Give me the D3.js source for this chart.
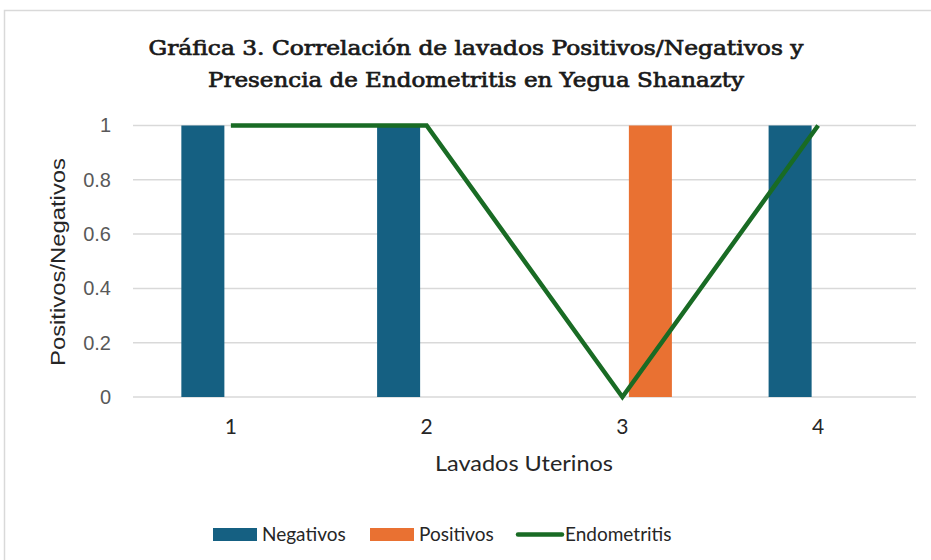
<!DOCTYPE html>
<html><head><meta charset="utf-8">
<script src="https://cdn.jsdelivr.net/npm/d3@7"></script>
<style>html,body{margin:0;padding:0;background:#fff;}svg{display:block;}</style>
</head><body>
<script>
const categories = ["1","2","3","4"];
const negativos = [1, 1, 0, 1];
const positivos = [0, 0, 1, 0];
const endometritis = [1, 1, 0, 1];
const yTicks = [0, 0.2, 0.4, 0.6, 0.8, 1];
const seriesNames = ["Negativos", "Positivos"];
const colors = {Negativos: "#156082", Positivos: "#E97132", Endometritis: "#196B24"};

const W = 931, H = 560;
const svg = d3.select("body").append("svg").attr("width", W).attr("height", H);
svg.append("rect").attr("x",4.5).attr("y",10.5).attr("width",960).attr("height",600)
  .attr("fill","#fff").attr("stroke","#d9d9d9").attr("stroke-width",1.5);

const plot = {left:133, right:916, top:125.5, bottom:397};
const x0 = d3.scaleBand().domain(categories).range([plot.left, plot.right])
  .paddingInner(0.494).paddingOuter(0.247);
const x1 = d3.scaleBand().domain(seriesNames).range([0, x0.bandwidth()]).paddingInner(0.232);
const y = d3.scaleLinear().domain([0,1]).range([plot.bottom, plot.top]);

// gridlines
svg.append("g").selectAll("line").data(yTicks).join("line")
  .attr("x1", plot.left).attr("x2", plot.right)
  .attr("y1", d=>y(d)).attr("y2", d=>y(d))
  .attr("stroke","#d9d9d9").attr("stroke-width",1.5);

// y labels
const yAxis = d3.axisLeft(y).tickValues(yTicks).tickSize(0).tickPadding(0).tickFormat(d=>String(d));
const gy = svg.append("g").attr("transform",`translate(${plot.left-22},0)`).call(yAxis);
gy.select(".domain").remove();
gy.selectAll("text").attr("font-family","'Liberation Sans', Arial, sans-serif").attr("font-size",20).attr("fill","#595959");

// x labels
const xAxis = d3.axisBottom(x0).tickSize(0).tickPadding(0);
const gx = svg.append("g").attr("transform",`translate(0,${plot.bottom+22})`).call(xAxis);
gx.select(".domain").remove();
gx.selectAll("text").attr("font-family","Lato, 'Open Sans', sans-serif").attr("font-size",21).attr("fill","#262626");

// bars
const data = categories.map((c,i)=>({cat:c, Negativos:negativos[i], Positivos:positivos[i]}));
const groups = svg.append("g").selectAll("g").data(data).join("g")
  .attr("transform", d=>`translate(${x0(d.cat)},0)`);
groups.selectAll("rect").data(d=>seriesNames.map(k=>({key:k, value:d[k]})).filter(e=>e.value>0)).join("rect")
  .attr("x", d=>x1(d.key)).attr("width", x1.bandwidth())
  .attr("y", d=>y(d.value)).attr("height", d=>y(0)-y(d.value))
  .attr("fill", d=>colors[d.key]);

// line
const line = d3.line().x((d,i)=>x0(categories[i])+x0.bandwidth()/2).y(d=>y(d));
svg.append("path").datum(endometritis).attr("d", line)
  .attr("fill","none").attr("stroke",colors.Endometritis).attr("stroke-width",4.5)
  .attr("stroke-linejoin","miter").attr("stroke-linecap","butt");

// axis titles
svg.append("text").attr("x",524).attr("y",471).attr("text-anchor","middle")
  .attr("font-family","Lato, 'Open Sans', sans-serif").attr("font-size",21).attr("fill","#262626")
  .attr("textLength",178).attr("lengthAdjust","spacingAndGlyphs")
  .text("Lavados Uterinos");
svg.append("text").attr("transform",`translate(65,262) rotate(-90)`).attr("text-anchor","middle")
  .attr("font-family","'Liberation Sans', Arial, sans-serif").attr("font-size",21).attr("fill","#262626")
  .attr("textLength",208).attr("lengthAdjust","spacingAndGlyphs")
  .text("Positivos/Negativos");

// title
const titleLines = [
  {t:"Gráfica 3. Correlación de lavados Positivos/Negativos y", y:55, w:655},
  {t:"Presencia de Endometritis en Yegua Shanazty", y:87, w:536}
];
titleLines.forEach(l=>{
  svg.append("text").attr("x",476).attr("y",l.y).attr("text-anchor","middle")
    .attr("font-family","'DejaVu Serif', 'Liberation Serif', serif").attr("font-weight","normal")
    .attr("font-size",20).attr("fill","#1a1a1a").attr("stroke","#1a1a1a").attr("stroke-width",0.7)
    .attr("textLength",l.w).attr("lengthAdjust","spacingAndGlyphs").text(l.t);
});

// legend
const legend = [
  {name:"Negativos", type:"rect", x:213},
  {name:"Positivos", type:"rect", x:370},
  {name:"Endometritis", type:"line", x:516}
];
const lg = svg.append("g");
legend.forEach(d=>{
  if(d.type==="rect"){
    lg.append("rect").attr("x",d.x).attr("y",528).attr("width",44).attr("height",13).attr("fill",colors[d.name]);
  } else {
    lg.append("line").attr("x1",d.x+2).attr("x2",d.x+46).attr("y1",534.5).attr("y2",534.5)
      .attr("stroke",colors[d.name]).attr("stroke-width",4.5).attr("stroke-linecap","round");
  }
  lg.append("text").attr("x",d.x+49).attr("y",541).attr("font-family","Lato, 'Open Sans', sans-serif")
    .attr("font-size",19).attr("fill","#262626").text(d.name);
});
</script>
</body></html>
